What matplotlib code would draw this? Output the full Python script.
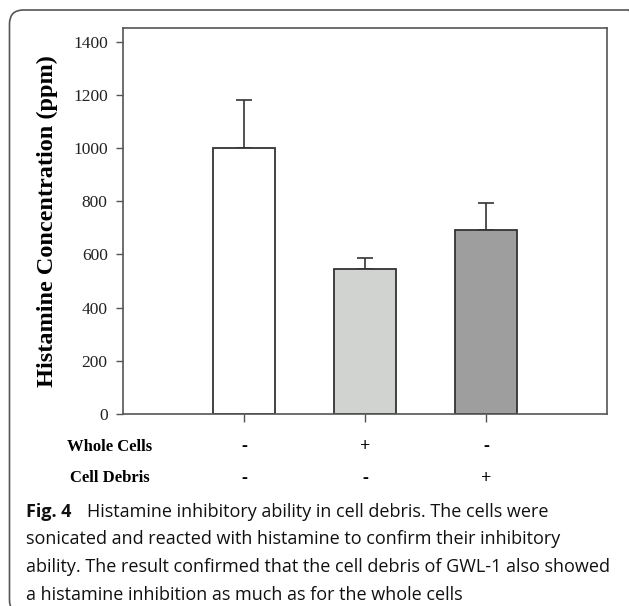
import matplotlib
matplotlib.use("Agg")
import matplotlib.pyplot as plt
from matplotlib.patches import FancyBboxPatch
from matplotlib.transforms import IdentityTransform

# data
groups = ["Control", "Whole Cells", "Cell Debris"]
means = [1000, 546, 691]
errors = [183, 39, 104]
whole_cells = ["-", "+", "-"]
cell_debris = ["-", "-", "+"]
bar_colors = ["#ffffff", "#d1d3d1", "#9d9e9d"]
caption_bold = "Fig. 4"
caption_lines = [
    "Histamine inhibitory ability in cell debris. The cells were",
    "sonicated and reacted with histamine to confirm their inhibitory",
    "ability. The result confirmed that the cell debris of GWL-1 also showed",
    "a histamine inhibition as much as for the whole cells",
]

serif = ["Liberation Serif", "DejaVu Serif"]
sans = ["Open Sans", "DejaVu Sans"]

fig = plt.figure(figsize=(6.29, 6.06), dpi=100)
ax = fig.add_axes([123 / 629, 1 - 413.7 / 606, (607 - 123) / 629, (413.7 - 28) / 606])

x = [1, 2, 3]
ax.bar(x, means, width=0.52, color=bar_colors, edgecolor="#333333", linewidth=1.3, zorder=2)
ax.errorbar(x, means, yerr=[[0, 0, 0], errors], fmt="none", ecolor="#333333",
            elinewidth=1.2, capsize=6, capthick=1.2, zorder=1)

ax.set_xlim(0, 4)
ax.set_ylim(0, 1453)
ax.set_yticks(range(0, 1401, 200))
ax.set_xticks(x)
ax.set_xticklabels([])
for s in ax.spines.values():
    s.set_color("#555555")
    s.set_linewidth(1.2)
ax.tick_params(axis="y", direction="out", length=5, width=1, color="#555555",
               labelsize=12.5, pad=6)
ax.tick_params(axis="x", direction="out", length=6, width=1, color="#555555")
for lab in ax.get_yticklabels():
    lab.set_family(serif)
    lab.set_color("#222222")

ax.set_ylabel("Histamine Concentration (ppm)", family=serif, fontweight="bold",
              fontsize=17.5, labelpad=11)

tr = ax.get_xaxis_transform()
row_x = (110 - 123) / 121
ax.text(row_x, -0.0863, "Whole Cells", transform=tr, ha="center", va="center",
        family=serif, fontweight="bold", fontsize=12)
ax.text(row_x, -0.167, "Cell Debris", transform=tr, ha="center", va="center",
        family=serif, fontweight="bold", fontsize=12)
for xi, w, c in zip(x, whole_cells, cell_debris):
    ax.text(xi, -0.0863, w, transform=tr, ha="center", va="center",
            family=serif, fontweight="bold", fontsize=13)
    ax.text(xi, -0.167, c, transform=tr, ha="center", va="center",
            family=serif, fontweight="bold", fontsize=13)

# rounded frame round the figure, in pixels (right and bottom edges fall outside)
frame = FancyBboxPatch((9.5, -8), 633, 604, boxstyle="round,pad=0,rounding_size=14",
                       transform=IdentityTransform(), facecolor="none",
                       edgecolor="#555555", linewidth=1.2)
fig.patches.append(frame)

# caption
cap_fs = 13
base_y = [517, 544.5, 572, 599.5]
t0 = fig.text(26 / 629, 1 - base_y[0] / 606, caption_bold, family=sans, fontweight="bold",
              fontsize=cap_fs, va="baseline", color="#111111")
fig.canvas.draw()
bb = t0.get_window_extent()
fig.text((bb.x1 + 16) / 629, 1 - base_y[0] / 606, caption_lines[0], family=sans,
         fontsize=cap_fs, va="baseline", color="#111111")
for yb, line in zip(base_y[1:], caption_lines[1:]):
    fig.text(26 / 629, 1 - yb / 606, line, family=sans, fontsize=cap_fs,
             va="baseline", color="#111111")

fig.savefig("out.png", dpi=100)
